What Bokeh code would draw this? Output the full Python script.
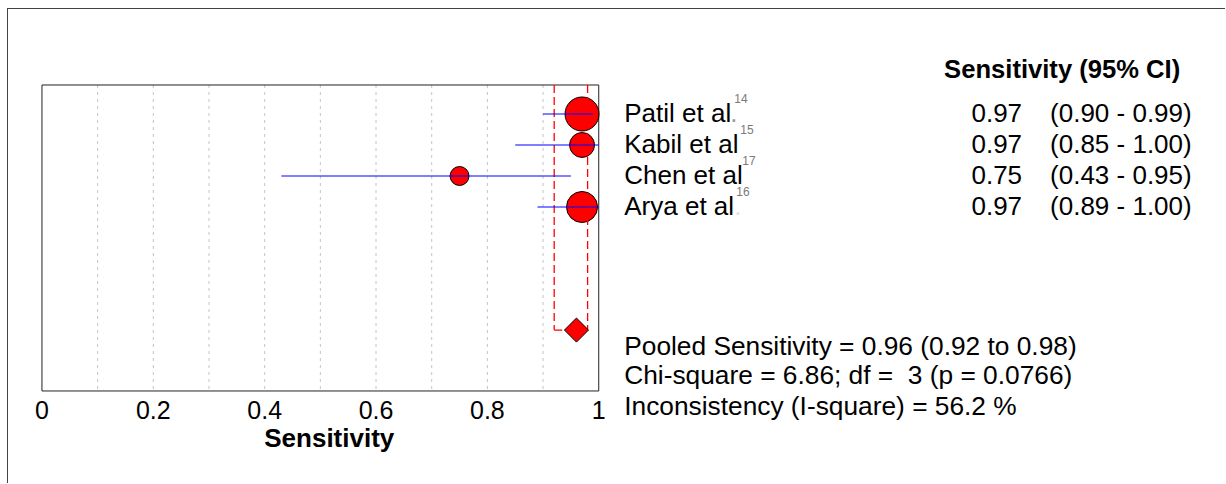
import math
from bokeh.plotting import figure
from bokeh.models import Range1d, ColumnDataSource
from bokeh.core.properties import value
from bokeh.embed import file_html
from bokeh.resources import INLINE

# ---------------- data ----------------
studies = ["Patil et al", "Kabil et al", "Chen et al", "Arya et al"]
refs = ["14", "15", "17", "16"]
sens = [0.97, 0.97, 0.75, 0.97]
ci_low = [0.90, 0.85, 0.43, 0.89]
ci_high = [0.99, 1.00, 0.95, 1.00]
weights = [37.3, 20.1, 11.6, 31.0]  # relative weight (%)

pooled = 0.96
pooled_low = 0.92
pooled_high = 0.98
chi_square = 6.86
df = 3
p_value = 0.0766
i_square = 56.2

x_ticks = [0, 0.2, 0.4, 0.6, 0.8, 1]
x_tick_labels = ["0", "0.2", "0.4", "0.6", "0.8", "1"]
grid_ticks = [0.1, 0.2, 0.3, 0.4, 0.5, 0.6, 0.7, 0.8, 0.9]
x_title = "Sensitivity"
table_title = "Sensitivity (95% CI)"

# ---------------- layout (one frame spanning the canvas) ----------------
FONT = "Liberation Sans"
rows = [i + 1 for i in range(len(studies))]
pooled_row = 7.97
BOX_TOP = 0.0645
BOX_BOTTOM = 9.935
X_MIN, X_MAX = 0.0, 1.0

p = figure(width=1218, height=475, output_backend="svg", toolbar_location=None,
           x_range=Range1d(-0.0601, 2.1275), y_range=Range1d(12.952, -2.371),
           x_axis_location=None, y_axis_location=None,
           min_border_left=0, min_border_right=0, min_border_top=0, min_border_bottom=0)
p.styles = {"margin-left": "7px", "margin-top": "8px",
            "border-top": "1px solid #444444", "border-left": "1px solid #444444"}
p.outline_line_color = None
p.xgrid.visible = False
p.ygrid.visible = False
p.background_fill_color = "white"
p.border_fill_color = "white"

# dashed vertical grid lines inside the box
p.segment(x0=grid_ticks, y0=[BOX_TOP] * len(grid_ticks), x1=grid_ticks,
          y1=[BOX_BOTTOM] * len(grid_ticks), line_color="#c4c4c4", line_dash="3 4",
          line_width=1)

# plot box
p.quad(left=[X_MIN], right=[X_MAX], top=[BOX_TOP], bottom=[BOX_BOTTOM],
       fill_color=None, line_color="#222222", line_width=1)

# study markers and CIs
sizes = [5.567 * math.sqrt(w) for w in weights]
src = ColumnDataSource(dict(x=sens, y=rows, lo=ci_low, hi=ci_high, size=sizes))
p.scatter(x="x", y="y", size="size", source=src, marker="circle",
          fill_color="#ff0000", line_color="black", line_width=1)

# pooled CI dashed box (open on top)
for xv in (pooled_low, pooled_high):
    p.segment(x0=[xv], y0=[BOX_TOP], x1=[xv], y1=[pooled_row],
              line_color="#ff0000", line_dash="8 4", line_width=1.3)
p.segment(x0=[pooled_low], y0=[pooled_row], x1=[pooled_high], y1=[pooled_row],
          line_color="#ff0000", line_dash="8 4", line_width=1.3)

p.segment(x0="lo", y0="y", x1="hi", y1="y", source=src,
          line_color="#0000ff", line_width=1.2)

# pooled diamond
p.scatter(x=[pooled], y=[pooled_row], marker="square", size=17, angle=math.pi / 4,
          fill_color="#ff0000", line_color="black", line_width=1)

common = dict(text_font=value(FONT), text_baseline="middle", text_color="black")

# x axis tick labels and title
p.text(x=x_ticks, y=[10.54] * len(x_ticks), text=x_tick_labels, text_font_size="25px",
       text_align="center", **common)
p.text(x=[0.516], y=[11.45], text=[x_title], text_font_size="26px",
       text_font_style="bold", text_align="center", **common)

# ---------------- table texts ----------------
LABEL_X = 1.0458
VAL_X = 1.7603
CI_X = 1.8106
HEAD_X = 1.6203
sup_offsets = [110, 116, 118, 112]

p.text(x=[HEAD_X], y=[-0.44], text=[table_title], text_font_size="25.6px",
       text_font_style="bold", **common)

p.text(x=[LABEL_X] * len(studies), y=[r - 0.03 for r in rows], text=studies,
       text_font_size="26px", **common)
p.text(x=[LABEL_X] * len(studies), y=[r - 0.5 for r in rows], x_offset=sup_offsets,
       text=refs, text_font_size="12px", text_font=value(FONT), text_baseline="middle",
       text_color="#7a7a7a")
p.text(x=[VAL_X] * len(studies), y=[r - 0.03 for r in rows],
       text=[f"{s:.2f}" for s in sens], text_font_size="26px", text_align="right", **common)
p.text(x=[CI_X] * len(studies), y=[r - 0.03 for r in rows],
       text=[f"({lo:.2f} - {hi:.2f})" for lo, hi in zip(ci_low, ci_high)],
       text_font_size="26px", **common)

# faint dots after two labels
p.text(x=[LABEL_X], y=[rows[0] - 0.03], x_offset=[106], text=["."], text_font_size="26px",
       text_font=value(FONT), text_baseline="middle", text_color="#9a9a9a")
p.text(x=[LABEL_X], y=[rows[3] - 0.03], x_offset=[110], text=["."], text_font_size="26px",
       text_font=value(FONT), text_baseline="middle", text_color="#e0e0e0")

stats = [
    f"Pooled Sensitivity = {pooled:.2f} ({pooled_low:.2f} to {pooled_high:.2f})",
    f"Chi-square = {chi_square:.2f}; df = \u00a0{df} (p = {p_value:.4f})",
    f"Inconsistency (I-square) = {i_square:.1f} %",
]
stat_rows = [pooled_row + 0.515, pooled_row + 1.45, pooled_row + 2.45]
p.text(x=[LABEL_X] * len(stats), y=stat_rows, text=stats, text_font_size="26.3px", **common)

open("out.html", "w").write(file_html(p, INLINE))
